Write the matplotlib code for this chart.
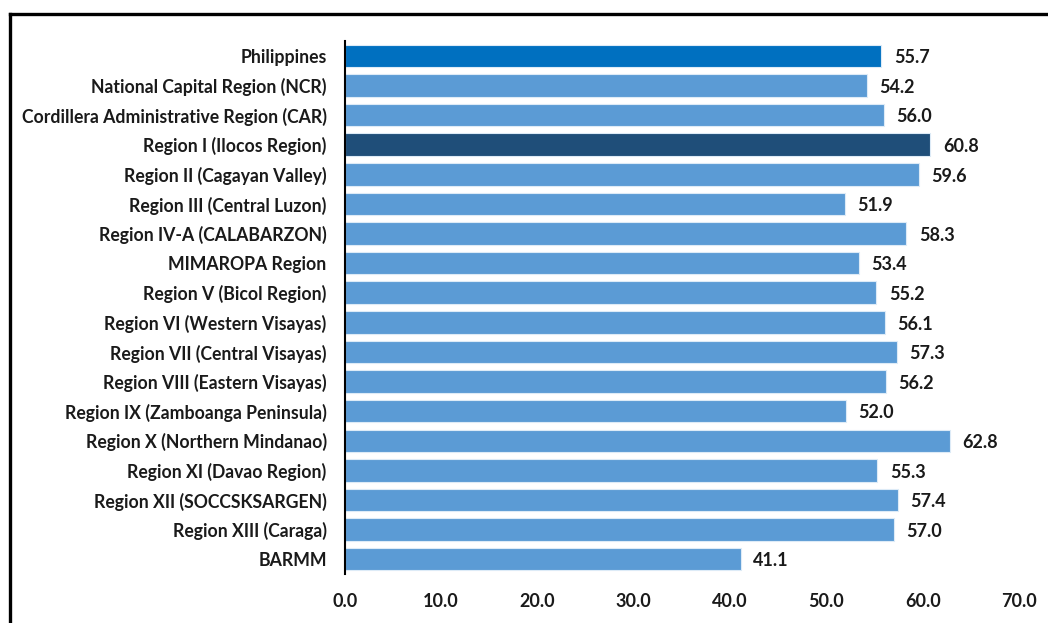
import numpy as np
from matplotlib import pyplot as plt
from matplotlib.lines import Line2D

plt.rcParams["font.family"] = ["Lato", "DejaVu Sans"]

regions = [
	"Philippines",
	"National Capital Region (NCR)",
	"Cordillera Administrative Region (CAR)",
	"Region I (Ilocos Region)",
	"Region II (Cagayan Valley)",
	"Region III (Central Luzon)",
	"Region IV-A (CALABARZON)",
	"MIMAROPA Region",
	"Region V (Bicol Region)",
	"Region VI (Western Visayas)",
	"Region VII (Central Visayas)",
	"Region VIII (Eastern Visayas)",
	"Region IX (Zamboanga Peninsula)",
	"Region X (Northern Mindanao)",
	"Region XI (Davao Region)",
	"Region XII (SOCCSKSARGEN)",
	"Region XIII (Caraga)",
	"BARMM",
]
values = [55.7, 54.2, 56.0, 60.8, 59.6, 51.9, 58.3, 53.4, 55.2,
	56.1, 57.3, 56.2, 52.0, 62.8, 55.3, 57.4, 57.0, 41.1]
x_ticks = [0, 10, 20, 30, 40, 50, 60, 70]

# 色: 全国 / 最上位地域 / その他
colors = ["#5B9BD5"] * len(regions)
colors[0] = "#0070C0"
colors[3] = "#1F4E79"

fig = plt.figure(figsize=(10.48, 6.23), dpi=100)
ax = fig.add_axes([0.329, 0.0787, 0.6433, 0.8553])

y = np.arange(len(regions))
ax.barh(y, values, height=0.76, color=colors, edgecolor="#DDEBF7", linewidth=0.8)
for yi, v in zip(y, values):
	ax.text(v + 1.3, yi + 0.06, f"{v:.1f}", va="center", ha="left",
		fontsize=13, fontweight="bold", color="#1A1A1A")

ax.set_yticks(y)
ax.set_yticklabels(regions, fontsize=12.7, fontweight="bold", color="#1A1A1A")
ax.set_ylim(len(regions) - 0.5, -0.5)
ax.set_xlim(0, 70)
ax.set_xticks(x_ticks)
ax.set_xticklabels([f"{t:.1f}" for t in x_ticks], fontsize=13,
	fontweight="bold", color="#1A1A1A")
ax.tick_params(axis="both", length=0)
ax.tick_params(axis="x", pad=14)
ax.tick_params(axis="y", pad=13)
for side in ["top", "right", "bottom"]:
	ax.spines[side].set_visible(False)
ax.spines["left"].set_linewidth(1.5)
ax.spines["left"].set_color("black")

# 外枠（上と左のみ）
fig.add_artist(Line2D([0.0092, 1.0], [1 - 13.5 / 623, 1 - 13.5 / 623],
	transform=fig.transFigure, color="black", linewidth=2.4))
fig.add_artist(Line2D([9.5 / 1048, 9.5 / 1048], [0.0, 1 - 13.5 / 623],
	transform=fig.transFigure, color="black", linewidth=2.4))

fig.savefig("out.png", dpi=100)
